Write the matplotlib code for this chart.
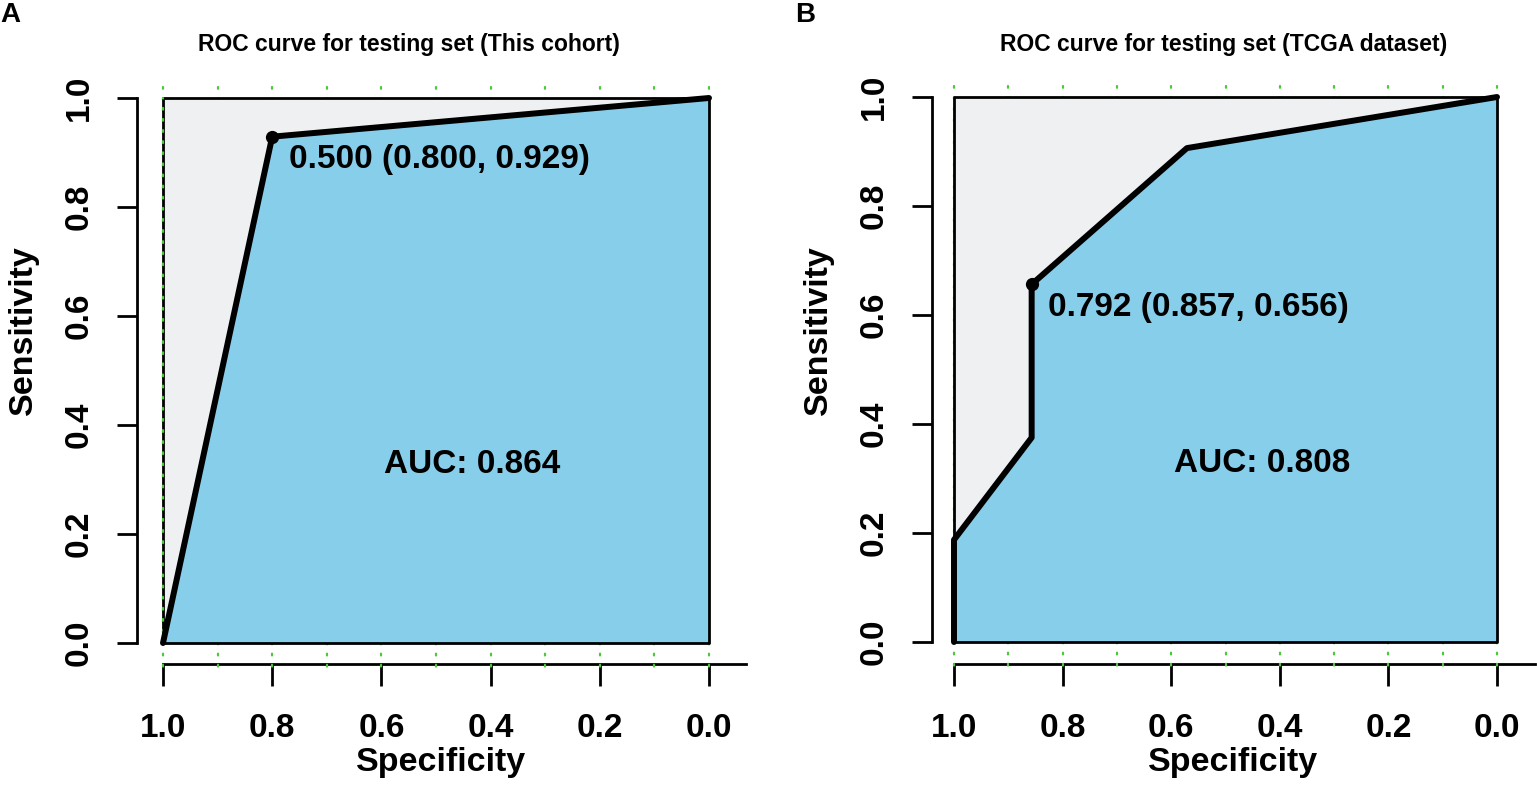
import numpy as np
import matplotlib
matplotlib.use('Agg')
import matplotlib.pyplot as plt

plt.rcParams['font.family'] = ['Liberation Sans', 'DejaVu Sans']
plt.rcParams['font.weight'] = 'bold'

# ROC data (specificity, sensitivity) for the two testing sets
titles = ['ROC curve for testing set (This cohort)', 'ROC curve for testing set (TCGA dataset)']
letters = ['A', 'B']
spec_a = [1.0, 0.8, 0.0]
sens_a = [0.0, 0.929, 1.0]
spec_b = [1.0, 1.0, 0.857, 0.857, 0.571, 0.0]
sens_b = [0.0, 0.1875, 0.375, 0.65625, 0.90625, 1.0]
best_thr = [0.500, 0.792]
best_spec = [0.800, 0.857]
best_sens = [0.929, 0.656]
auc_vals = [0.864, 0.808]
ticks = [1.0, 0.8, 0.6, 0.4, 0.2, 0.0]
grid_x = np.round(np.arange(0, 11) / 10, 1)

W, H = 1537, 788
GRAY = '#eff0f2'
BLUE = '#87ceeb'
GREEN = '#4cc83a'

fig = plt.figure(figsize=(W / 100, H / 100), dpi=100)

# pixel layout of each panel: spec=1, spec=0, sens=1, sens=0, axes left/right/top/bottom
layouts = [
    (163, 709, 98, 643, 137, 746, 73, 664),
    (954, 1497, 97, 642, 932, 1535, 72, 664),
]
title_x = [409, 1224]
letter_x = [10, 805]


def to_axes(ax, px, py):
    return ax.transAxes.inverted().transform((px, H - py))


for i, (spec, sens) in enumerate([(spec_a, sens_a), (spec_b, sens_b)]):
    s1, s0, t1, t0, lp, rp, tp, bp = layouts[i]
    ux = s0 - s1
    uy = t0 - t1
    ax = fig.add_axes([lp / W, 1 - bp / H, (rp - lp) / W, (bp - tp) / H])
    ax.set_xlim(1 + (s1 - lp) / ux, -(rp - s0) / ux)
    ax.set_ylim(-(bp - t0) / uy, 1 + (t1 - tp) / uy)
    ax.patch.set_visible(False)

    # green dotted grid, only shows outside the polygons
    grid = ax.vlines(grid_x, 1.02, ax.get_ylim()[0] - 0.01, colors=GREEN, lw=1.6,
                     linestyles=(0, (0.8, 4.2)), zorder=2.6, clip_on=False)
    grid.set_capstyle('round')

    # max AUC area and AUC area
    ax.fill([1, 1, 0, 0], [0, 1, 1, 0], color=GRAY, lw=0, zorder=3)
    ax.fill(np.r_[spec, 0], np.r_[sens, 0], color=BLUE, lw=0, zorder=3.1)
    ax.plot([0, 1, 1, 0, 0], [1, 1, 0, 0, 1], color='black', lw=2.0, zorder=3.2)
    if i == 0:
        ax.plot([1, 1], [0, 1], color=GREEN, lw=1.6, ls=(0, (0.8, 4.2)),
                dash_capstyle='round', zorder=3.3)

    ax.plot(spec, sens, color='black', lw=4.3, solid_joinstyle='round',
            solid_capstyle='round', zorder=4)
    ax.plot(best_spec[i], best_sens[i], 'o', color='black', ms=8.5, zorder=5)
    ax.annotate(f'{best_thr[i]:.3f} ({best_spec[i]:.3f}, {best_sens[i]:.3f})',
                (best_spec[i], best_sens[i]), xytext=(12, -16.5),
                textcoords='offset points', ha='left', va='center',
                fontsize=24, fontweight='bold', zorder=6)
    ax.text(0.595, 0.327, f'AUC: {auc_vals[i]:.3f}', ha='left', va='center',
            fontsize=24, fontweight='bold', zorder=6)

    # axes in R style
    for side in ['top', 'right']:
        ax.spines[side].set_visible(False)
    ax.spines['left'].set_bounds(0, 1)
    ax.spines['bottom'].set_bounds(1.0, ax.get_xlim()[1])
    for side in ['left', 'bottom']:
        ax.spines[side].set_linewidth(2.0)
    ax.set_xticks(ticks)
    ax.set_xticklabels([f'{t:.1f}' for t in ticks])
    ax.set_yticks(ticks[::-1])
    ax.set_yticklabels([f'{t:.1f}' for t in ticks[::-1]], rotation=90,
                       va='center')
    ax.tick_params(axis='x', length=15.5, width=2.0, pad=20, labelsize=24)
    ax.tick_params(axis='y', length=14.5, width=2.0, pad=16, labelsize=24)

    ax.set_xlabel('Specificity', fontsize=24.5, fontweight='bold')
    ax.xaxis.set_label_coords(*to_axes(ax, (lp + rp) / 2, 747))
    ax.set_ylabel('Sensitivity', fontsize=24.5, fontweight='bold')
    ax.yaxis.set_label_coords(*to_axes(ax, lp - 98, 330))

    fig.text(title_x[i] / W, 1 - 45 / H, titles[i], ha='center', va='center',
             fontsize=16.5, fontweight='bold')
    fig.text(letter_x[i] / W, 1 - 15 / H, letters[i], ha='center', va='center',
             fontsize=20, fontweight='bold')

fig.savefig('out.png', dpi=100)
